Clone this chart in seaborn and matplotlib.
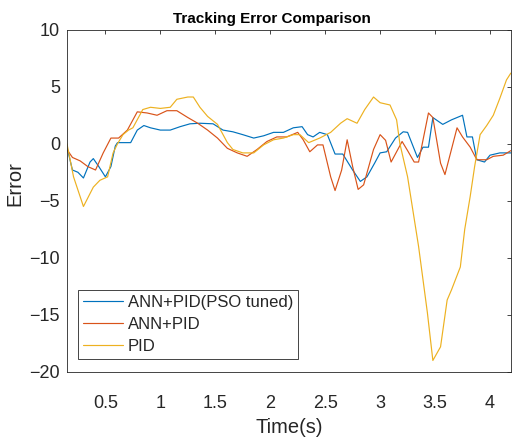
import numpy as np
import pandas as pd
import matplotlib
matplotlib.use("Agg")
import matplotlib.pyplot as plt
import seaborn as sns

# Tracking error of three controllers over time
t_pso = [0.15, 0.20, 0.25, 0.30, 0.36, 0.39, 0.44, 0.50, 0.55, 0.59, 0.61, 0.73,
         0.79, 0.85, 0.91, 1.00, 1.09, 1.18, 1.27, 1.36, 1.48, 1.57, 1.66, 1.75,
         1.85, 1.94, 2.03, 2.12, 2.21, 2.29, 2.34, 2.39, 2.45, 2.52, 2.59, 2.66,
         2.75, 2.82, 2.88, 2.95, 3.00, 3.06, 3.14, 3.21, 3.25, 3.34, 3.39, 3.44,
         3.48, 3.57, 3.65, 3.75, 3.79, 3.84, 3.88, 3.95, 4.00, 4.09, 4.19]
e_pso = [-0.3, -2.3, -2.5, -3.0, -1.6, -1.3, -2.0, -2.9, -2.0, -0.2, 0.1, 0.1,
         1.2, 1.6, 1.4, 1.2, 1.2, 1.5, 1.75, 1.8, 1.75, 1.2, 1.05, 0.8,
         0.5, 0.7, 1.0, 1.0, 1.4, 1.5, 0.8, 0.6, 1.0, 0.8, -0.9, -0.9,
         -2.3, -3.3, -2.9, -1.7, -0.8, -0.7, 0.5, 1.05, 1.0, -1.2, -0.3, -0.3,
         2.3, 1.7, 2.1, 2.5, 0.6, 0.6, -1.4, -1.6, -1.0, -0.8, -0.8]

t_ann = [0.15, 0.20, 0.27, 0.34, 0.41, 0.48, 0.55, 0.62, 0.70, 0.79, 0.88, 0.97,
         1.06, 1.15, 1.25, 1.34, 1.43, 1.52, 1.61, 1.70, 1.79, 1.88, 1.97, 2.06,
         2.15, 2.25, 2.30, 2.36, 2.43, 2.48, 2.55, 2.59, 2.65, 2.70, 2.75, 2.80,
         2.85, 2.94, 3.00, 3.05, 3.10, 3.20, 3.25, 3.31, 3.35, 3.44, 3.48, 3.55,
         3.59, 3.70, 3.75, 3.82, 3.88, 3.97, 4.03, 4.12, 4.19]
e_ann = [-0.5, -1.2, -1.5, -2.0, -2.3, -0.8, 0.5, 0.5, 1.2, 2.8, 2.7, 2.5,
         2.9, 2.9, 2.3, 1.8, 1.2, 0.5, -0.4, -0.8, -1.1, -0.5, 0.2, 0.6,
         0.6, 1.0, 0.35, -0.7, -0.1, -0.1, -2.9, -4.1, -2.3, 0.35, -2.0, -4.0,
         -3.6, -0.5, 0.8, 0.3, -1.6, 0.2, -0.6, -1.6, -1.6, 2.7, 2.3, -1.7,
         -2.7, 1.4, 0.6, -0.3, -1.4, -1.4, -1.1, -1.0, -0.6]

t_pid = [0.15, 0.21, 0.30, 0.39, 0.45, 0.52, 0.57, 0.61, 0.66, 0.71, 0.75, 0.84,
         0.91, 1.00, 1.09, 1.15, 1.25, 1.30, 1.36, 1.43, 1.52, 1.61, 1.66, 1.75,
         1.85, 1.94, 2.03, 2.12, 2.21, 2.27, 2.35, 2.45, 2.55, 2.64, 2.70, 2.79,
         2.86, 2.94, 3.00, 3.09, 3.15, 3.18, 3.25, 3.35, 3.43, 3.48, 3.55, 3.61,
         3.65, 3.73, 3.77, 3.82, 3.86, 3.91, 3.97, 4.03, 4.09, 4.15, 4.19]
e_pid = [0.0, -2.9, -5.5, -3.8, -3.2, -2.9, -0.8, 0.0, 0.8, 1.2, 1.4, 3.0,
         3.2, 3.1, 3.2, 3.9, 4.1, 4.1, 3.2, 2.4, 1.7, 0.1, -0.5, -0.8,
         -0.8, -0.1, 0.35, 0.5, 0.8, 0.8, 0.1, 0.5, 1.0, 1.8, 2.2, 1.8,
         3.0, 4.1, 3.6, 3.4, 2.1, 0.0, -2.9, -9.0, -14.8, -19.0, -17.8, -13.7,
         -12.8, -10.8, -7.5, -4.6, -2.0, 0.8, 1.6, 2.5, 4.0, 5.6, 6.2]

labels = ["ANN+PID(PSO tuned)", "ANN+PID", "PID"]
colors = ["#0072BD", "#D95319", "#EDB120"]
x_ticks = [0.5, 1, 1.5, 2, 2.5, 3, 3.5, 4]
y_ticks = [-20, -15, -10, -5, 0, 5, 10]

df = pd.concat([
    pd.DataFrame({"Time": t_pso, "Error": e_pso, "Method": labels[0]}),
    pd.DataFrame({"Time": t_ann, "Error": e_ann, "Method": labels[1]}),
    pd.DataFrame({"Time": t_pid, "Error": e_pid, "Method": labels[2]}),
], ignore_index=True)

sns.set_theme(style="white")
plt.rcParams["font.family"] = ["Liberation Sans", "DejaVu Sans"]
plt.rcParams["axes.unicode_minus"] = True

fig = plt.figure(figsize=(5.15, 4.37), dpi=100)
ax = fig.add_axes([0.130, 0.149, 0.862, 0.783])

sns.lineplot(data=df, x="Time", y="Error", hue="Method", hue_order=labels,
             palette=colors, estimator=None, sort=False, linewidth=0.85, ax=ax)

ax.set_xlim(0.15, 4.19)
ax.set_ylim(-20, 10)
ax.set_xticks(x_ticks)
ax.set_xticklabels(["0.5", "1", "1.5", "2", "2.5", "3", "3.5", "4"])
ax.set_yticks(y_ticks)
ax.set_yticklabels(["\u221220", "\u221215", "\u221210", "\u22125", "0", "5", "10"])

for side in ["left", "right", "top", "bottom"]:
    ax.spines[side].set_visible(True)
    ax.spines[side].set_color("#262626")
    ax.spines[side].set_linewidth(0.6)

ax.tick_params(axis="both", direction="in", length=3, width=0.6, color="#262626",
               labelsize=13, labelcolor="#262626", top=True, right=True)
ax.tick_params(axis="x", pad=17)
ax.tick_params(axis="y", pad=5)

ax.set_xlabel("Time(s)", fontsize=14.5, color="#262626", labelpad=4)
ax.set_ylabel("Error", fontsize=14.5, color="#262626", labelpad=0)
ax.yaxis.set_label_coords(-0.095, 0.55)
ax.set_title("Tracking Error Comparison", fontsize=11, fontweight="bold",
             color="black", pad=5, x=0.462)

leg = ax.legend(loc="lower left", bbox_to_anchor=(0.025, 0.038), borderaxespad=0,
                fontsize=12, frameon=True, fancybox=False, framealpha=1,
                edgecolor="#262626", handlelength=2.4, handletextpad=0.3,
                borderpad=0.3, labelspacing=0.42)
leg.get_frame().set_linewidth(0.6)
for line in leg.get_lines():
    line.set_linewidth(0.85)

fig.savefig("out.png", dpi=100)
